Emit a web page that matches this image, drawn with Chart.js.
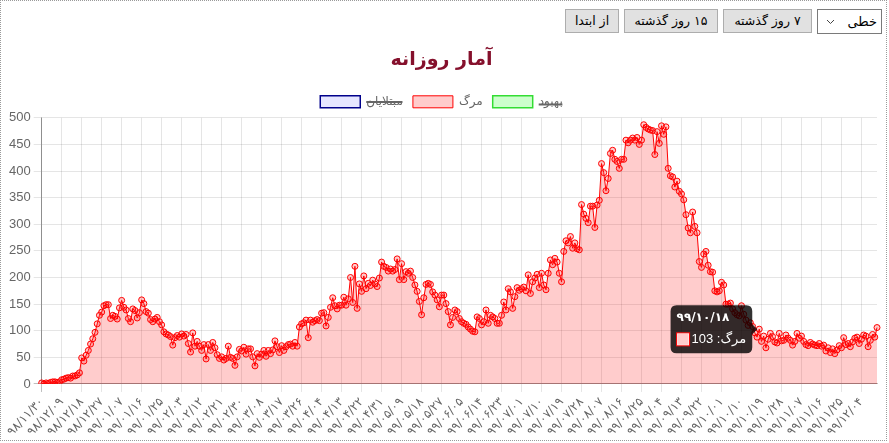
<!DOCTYPE html>
<html lang="fa">
<head>
<meta charset="utf-8">
<script src="https://cdn.jsdelivr.net/npm/chart.js@4.4.1/dist/chart.umd.min.js"></script>
<style>
  html, body { margin: 0; padding: 0; background: #fff; }
  #wrap { position: absolute; left: 0; top: 0; width: 887px; height: 441px; border: 1px dotted #9a9a9a; box-sizing: border-box; }
  #controls { position: absolute; top: 8px; right: 4px; display: flex; flex-direction: row-reverse; gap: 5px; font-family: 'DejaVu Sans', sans-serif; }
  .btn { height: 24px; box-sizing: border-box; background: #e1e1e1; border: 1px solid #adadad; font-size: 12.5px; line-height: 22px; text-align: center; color: #000; direction: rtl; }
  .sel { height: 25px; width: 65px; box-sizing: border-box; background: #fff; border: 1px solid #7a7a7a; font-size: 13px; line-height: 23px; position: relative; direction: rtl; padding-right: 4px; }
  .sel svg { position: absolute; left: 8px; top: 9px; }
  #chartBox { position: absolute; left: 1px; top: 39px; width: 885px; height: 402px; }
</style>
</head>
<body>
<div id="wrap">
  <div id="controls">
    <div class="sel">خطی<svg width="9" height="6" viewBox="0 0 9 6"><path d="M1 1 L4.5 4.5 L8 1" fill="none" stroke="#444" stroke-width="1"/></svg></div>
    <div class="btn" style="width:89px">۷ روز گذشته</div>
    <div class="btn" style="width:94px">۱۵ روز گذشته</div>
    <div class="btn" style="width:54px">از ابتدا</div>
  </div>
  <div id="chartBox"><canvas id="c"></canvas></div>
</div>
<script>
// ---- calendar for categories (Persian/Jalali dates, one per day) ----
const startYear = 98, startMonth = 11, startDay = 30;
const monthLengths98 = [31,31,31,31,31,31,30,30,30,30,30,29];
const monthLengths99 = [31,31,31,31,31,31,30,30,30,30,30,30];
const persianDigits = ['۰','۱','۲','۳','۴','۵','۶','۷','۸','۹'];
const tickEvery = 9;
const activeIndex = 323;

// ---- series values (daily deaths) ----
const deaths = [
  2,0,2,1,3,4,4,3,4,8,9,11,12,11,15,15,17,21,49,43,
  54,63,75,85,97,113,129,135,147,149,149,123,129,127,122,143,157,144,139,123,
  117,141,138,124,134,158,151,136,133,121,117,122,125,117,111,98,94,92,89,73,
  87,91,88,94,90,93,76,60,96,71,80,71,63,74,47,74,63,78,68,55,
  48,51,45,48,71,50,48,35,51,65,62,69,56,66,66,51,34,57,50,56,
  63,52,63,57,64,81,70,59,72,63,70,74,75,71,78,71,107,113,115,120,
  87,120,116,119,121,119,133,134,109,125,144,162,147,141,148,148,163,148,160,200,
  153,221,142,188,174,203,179,189,185,195,188,183,199,229,221,219,212,216,212,215,
  235,196,226,196,211,208,212,200,186,174,155,130,162,187,189,187,173,167,158,145,
  167,167,151,136,111,125,139,136,123,117,114,112,107,103,99,98,126,123,111,117,
  139,114,129,126,123,114,114,129,154,139,179,173,142,164,181,176,179,182,175,205,
  170,192,199,206,181,208,186,177,208,233,224,236,229,208,192,249,269,265,277,255,
  265,254,252,337,319,311,303,334,334,294,336,345,414,397,363,386,433,439,422,418,
  405,422,422,458,453,458,462,458,463,450,458,487,482,479,477,476,431,474,452,485,
  469,483,405,391,389,370,381,362,357,346,318,293,284,323,296,284,230,219,244,249,
  223,211,210,175,173,175,191,186,150,150,152,141,134,130,128,147,131,120,110,115,
  108,96,88,103,80,90,68,84,95,89,79,77,95,81,82,92,86,82,73,80,
  95,86,90,80,74,72,78,75,73,72,76,71,73,62,68,59,66,57,64,72,
  68,87,74,76,70,79,86,88,76,84,92,90,70,82,93,88,106
];
const recovered = [];
const infected = [];

const seriesNames = ['مبتلایان', 'مرگ', 'بهبود'];
const titleText = 'آمار روزانه';
const yTicks = { min: 0, max: 500, step: 50 };

function toPersian(s) { return String(s).replace(/[0-9]/g, d => persianDigits[+d]); }
function pad(n) { return n < 10 ? '0' + n : '' + n; }
const categories = [];
(function () {
  let y = startYear, m = startMonth, d = startDay;
  for (let i = 0; i < deaths.length; i++) {
    categories.push(toPersian(y + '/' + pad(m) + '/' + pad(d)));
    const ml = (y === 98 ? monthLengths98 : monthLengths99)[m - 1];
    d++;
    if (d > ml) { d = 1; m++; if (m > 12) { m = 1; y++; } }
  }
})();

Chart.defaults.font.family = "Arial, 'Liberation Sans', 'DejaVu Sans', sans-serif";
Chart.defaults.font.size = 12;
Chart.defaults.color = '#666';

const chart = new Chart(document.getElementById('c'), {
  type: 'line',
  data: {
    labels: categories,
    datasets: [
      { label: seriesNames[0], data: infected, hidden: true, borderColor: '#00008b', backgroundColor: 'rgba(0,0,255,0.1)', borderWidth: 1.5 },
      { label: seriesNames[1], data: deaths, borderColor: 'red', backgroundColor: 'rgba(255,0,0,0.2)', borderWidth: 1,
        pointRadius: 3, pointBorderWidth: 1, pointBackgroundColor: 'rgba(255,0,0,0.2)', pointBorderColor: 'red',
        fill: 'origin', tension: 0 },
      { label: seriesNames[2], data: recovered, hidden: true, borderColor: '#33dd33', backgroundColor: 'rgba(0,255,0,0.2)', borderWidth: 1.5 }
    ]
  },
  options: {
    responsive: true,
    maintainAspectRatio: false,
    animation: false,
    layout: { padding: { left: 4, right: 10, top: 0, bottom: 0 } },
    plugins: {
      title: { display: true, text: titleText, color: '#85102c', font: { size: 19, weight: 'bold', family: "'DejaVu Sans', sans-serif" }, padding: { top: 9, bottom: 14 } },
      legend: { labels: { boxWidth: 40, boxHeight: 12, color: '#666', font: { size: 12, family: "'DejaVu Sans', sans-serif" }, padding: 10 } },
      tooltip: {
        callbacks: { title: items => categories[items[0].dataIndex] },
        titleFont: { family: "'DejaVu Sans', sans-serif", weight: 'bold', size: 12 },
        bodyFont: { family: "Arial, 'Liberation Sans', 'DejaVu Sans', sans-serif", size: 13 }
      }
    },
    scales: {
      x: {
        grid: { color: ctx => ctx.index === 0 ? 'rgba(0,0,0,0.25)' : 'rgba(0,0,0,0.1)', tickLength: 8 },
        border: { color: 'rgba(0,0,0,0.25)' },
        ticks: {
          autoSkip: false, maxRotation: 47, minRotation: 47,
          font: { family: "'DejaVu Sans', sans-serif", size: 12 },
          callback: (v, i) => (i % tickEvery === 0 ? categories[i] : null)
        }
      },
      y: {
        min: yTicks.min, max: yTicks.max,
        grid: { color: ctx => ctx.index === 0 ? 'rgba(0,0,0,0.25)' : 'rgba(0,0,0,0.1)', tickLength: 8 },
        border: { color: 'rgba(0,0,0,0.25)' },
        ticks: { stepSize: yTicks.step, font: { size: 13 } }
      }
    }
  }
});

const pt = chart.getDatasetMeta(1).data[activeIndex];
chart.tooltip.setActiveElements([{ datasetIndex: 1, index: activeIndex }], { x: pt.x, y: pt.y });
chart.update('none');
</script>
</body>
</html>
